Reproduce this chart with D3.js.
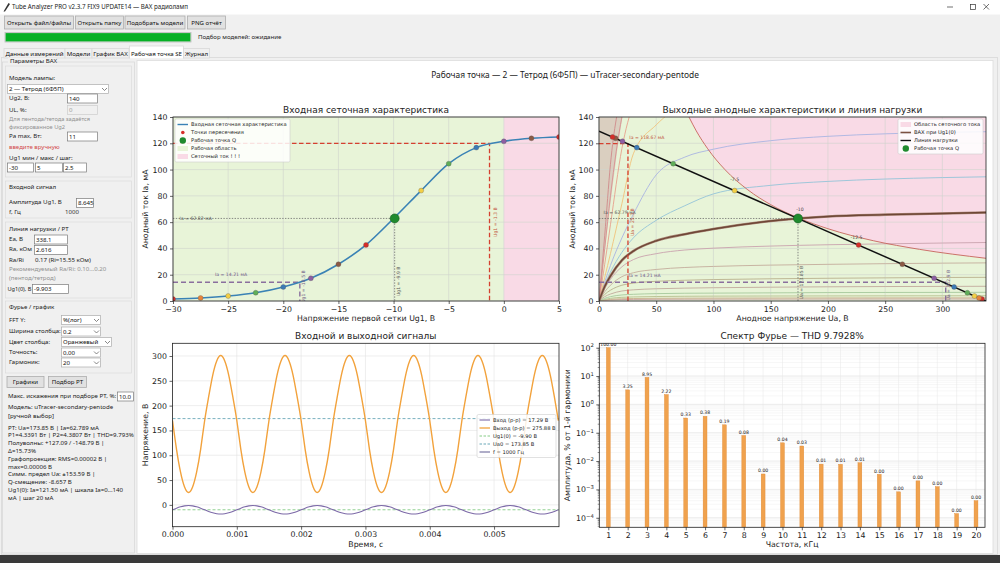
<!DOCTYPE html>
<html lang="ru">
<head>
<meta charset="utf-8"/>
<title>Tube Analyzer PRO — Рабочая точка SE</title>
<script src="https://d3js.org/d3.v7.min.js"></script>
<style>
  body { margin: 0; background: #f0f0f0; overflow: hidden; }
  svg { display: block; }
</style>
</head>
<body>
<svg id="app" width="1000" height="563"></svg>
<script>
// ---------- values ----------
// input (grid) characteristic along the load line
var ug1Grid    = [-30, -27.5, -25, -22.5, -20, -17.5, -15, -12.5, -10, -7.5, -5, -2.5, 0, 2.5, 5];
var iaTransfer = [1.5, 2.3, 3.8, 6.3, 10.7, 17.3, 28.0, 42.7, 62.8, 84.0, 104.5, 116.7, 121.5, 123.8, 124.8];
var uaCross    = [334.5, 332.0, 328.0, 321.8, 310.2, 292.8, 265.0, 226.8, 173.85, 118.5, 64.8, 33.0, 20.5, 14.5, 11.8];

// anode family Ia(Ua), one row per Ug1 of ug1Grid
var anodeUa = [0, 5, 10, 20, 30, 50, 75, 100, 150, 200, 250, 300, 338.1];
var anodeIa = [
  [0, 0.45, 0.78, 1.1, 1.2, 1.32, 1.38, 1.42, 1.46, 1.5, 1.52, 1.54, 1.55],
  [0, 0.7, 1.2, 1.7, 1.9, 2.05, 2.15, 2.2, 2.27, 2.32, 2.35, 2.38, 2.4],
  [0, 1.2, 2.0, 2.8, 3.1, 3.4, 3.6, 3.7, 3.8, 3.86, 3.92, 3.97, 4.0],
  [0, 2.0, 3.3, 4.6, 5.1, 5.6, 5.9, 6.0, 6.2, 6.4, 6.5, 6.55, 6.6],
  [0, 3.3, 5.3, 7.6, 8.5, 9.3, 9.8, 10.1, 10.5, 10.8, 11.0, 11.1, 11.2],
  [0, 5.0, 8.2, 12.0, 13.6, 15.0, 15.8, 16.3, 16.9, 17.3, 17.6, 17.9, 18.0],
  [0, 7.0, 12.0, 18.5, 21.5, 24.0, 25.5, 26.3, 27.3, 27.9, 28.4, 28.8, 29.0],
  [0, 9.5, 16.5, 26.0, 31.5, 36.0, 38.8, 40.2, 41.8, 42.8, 43.5, 44.1, 44.5],
  [0, 11.0, 19.0, 31.0, 38.0, 45.8, 50.8, 54.8, 60.9, 64.3, 65.7, 66.6, 67.3],
  [0, 12.5, 22.0, 37.0, 48.0, 61.4, 72.5, 81.5, 88.0, 91.0, 92.8, 93.9, 94.5],
  [0, 14.5, 27.0, 48.0, 66.0, 96.0, 109.5, 115.5, 122.0, 125.3, 127.2, 128.3, 128.8],
  [0, 18, 36, 74, 112, 134, 150, 158, 165, 170, 173, 175, 176],
  [0, 28, 58, 116, 150, 175, 185, 190, 195, 198, 200, 201, 202],
  [0, 40, 80, 140, 170, 195, 205, 210, 215, 218, 220, 221, 222],
  [0, 50, 104, 160, 190, 215, 225, 230, 235, 238, 240, 241, 242]
];
// Pa max = 11 W boundary
var paUa = [78.6, 85, 95, 110, 130, 150, 175, 200, 240, 280, 338.1];
var paIa = [140, 129.4, 115.8, 100, 84.6, 73.3, 62.9, 55.0, 45.8, 39.3, 32.5];
// left grid-current wedge
var tanUa = [0, 4, 8, 12, 16, 20.5, 0];
var tanIa = [0, 30, 60, 88, 115, 140, 140];
// load line Ea = 338.1 V, Ra = 2.616 kOhm
var loadUa = [0, 338.1];
var loadIa = [129.2, 0];

// signals (time in ms)
var tMs = [
  0,0.0625,0.125,0.1875,0.25,0.3125,0.375,0.4375,0.5,0.5625,0.625,0.6875,0.75,0.8125,0.875,0.9375,
  1,1.0625,1.125,1.1875,1.25,1.3125,1.375,1.4375,1.5,1.5625,1.625,1.6875,1.75,1.8125,1.875,1.9375,
  2,2.0625,2.125,2.1875,2.25,2.3125,2.375,2.4375,2.5,2.5625,2.625,2.6875,2.75,2.8125,2.875,2.9375,
  3,3.0625,3.125,3.1875,3.25,3.3125,3.375,3.4375,3.5,3.5625,3.625,3.6875,3.75,3.8125,3.875,3.9375,
  4,4.0625,4.125,4.1875,4.25,4.3125,4.375,4.4375,4.5,4.5625,4.625,4.6875,4.75,4.8125,4.875,4.9375,
  5,5.0625,5.125,5.1875,5.25,5.3125,5.375,5.4375,5.5,5.5625,5.625,5.6875,5.75,5.8125,5.875,5.9375,
  6];
var vOut = [
  170,112,66,36,25,36,66,112,170,218,261,290,301,290,261,218,
  170,112,66,36,25,36,66,112,170,218,261,290,301,290,261,218,
  170,112,66,36,25,36,66,112,170,218,261,290,301,290,261,218,
  170,112,66,36,25,36,66,112,170,218,261,290,301,290,261,218,
  170,112,66,36,25,36,66,112,170,218,261,290,301,290,261,218,
  170,112,66,36,25,36,66,112,170,218,261,290,301,290,261,218,
  170];
var vIn = [
  -9.9,-6.6,-3.8,-2.0,-1.3,-2.0,-3.8,-6.6,-9.9,-13.2,-16.0,-17.8,-18.5,-17.8,-16.0,-13.2,
  -9.9,-6.6,-3.8,-2.0,-1.3,-2.0,-3.8,-6.6,-9.9,-13.2,-16.0,-17.8,-18.5,-17.8,-16.0,-13.2,
  -9.9,-6.6,-3.8,-2.0,-1.3,-2.0,-3.8,-6.6,-9.9,-13.2,-16.0,-17.8,-18.5,-17.8,-16.0,-13.2,
  -9.9,-6.6,-3.8,-2.0,-1.3,-2.0,-3.8,-6.6,-9.9,-13.2,-16.0,-17.8,-18.5,-17.8,-16.0,-13.2,
  -9.9,-6.6,-3.8,-2.0,-1.3,-2.0,-3.8,-6.6,-9.9,-13.2,-16.0,-17.8,-18.5,-17.8,-16.0,-13.2,
  -9.9,-6.6,-3.8,-2.0,-1.3,-2.0,-3.8,-6.6,-9.9,-13.2,-16.0,-17.8,-18.5,-17.8,-16.0,-13.2,
  -9.9];

// spectrum, % of 1st harmonic
var harmN   = [1,2,3,4,5,6,7,8,9,10,11,12,13,14,15,16,17,18,19,20];
var harmPct = [100, 3.25, 8.95, 2.22, 0.33, 0.38, 0.19, 0.08, 0.0035, 0.044, 0.034, 0.0078,
               0.0077, 0.0087, 0.0034, 0.00082, 0.002, 0.00125, 0.00014, 0.0004];

// ticks
var ug1Ticks = [-30, -25, -20, -15, -10, -5, 0, 5];
var iaTicks  = [0, 20, 40, 60, 80, 100, 120, 140];
var uaTicks  = [0, 50, 100, 150, 200, 250, 300];
var tTicks   = [0, 0.001, 0.002, 0.003, 0.004, 0.005];
var vTicks   = [0, 50, 100, 150, 200, 250, 300];
var decTicks = [1e-4, 1e-3, 1e-2, 1e-1, 1, 10, 100];

// ---------- styles ----------
var UI  = '"Noto Sans", "Open Sans", sans-serif';
var MPL = '"DejaVu Sans", sans-serif';
var palette = ["#d62d28", "#e8853a", "#f3cf45", "#5fae58", "#3b7ab6", "#8d5ea3", "#8c5a45"];
var curveCols = ["#c9a0a0", "#c9b08e", "#b8bf8e", "#a6c89c", "#c2a99c", "#b9b08c", "#c4ad9c",
                 "#c9a3ae", "#7b5242", "#94c4d8", "#a9b4e2", "#f0c27a", "#e6a08c", "#d99090", "#cf8a8a"];
var GREEN = "#e8f4d8", PINK = "#f9dae6", TAN = "#dacfc0", GRID = "#cfd3cc";

var svg = d3.select("#app");
var defs = svg.append("defs");

function rect(g, x, y, w, h, fill, stroke, sw) {
  return g.append("rect").attr("x", x).attr("y", y).attr("width", w).attr("height", h)
    .attr("fill", fill).attr("stroke", stroke || "none").attr("stroke-width", sw || 1);
}
function text(g, x, y, s, size, fill, anchor, family) {
  return g.append("text").attr("x", x).attr("y", y).attr("font-size", size)
    .attr("fill", fill || "#1a1a1a").attr("text-anchor", anchor || "start")
    .attr("font-family", family || UI).text(s);
}

// ---------- window chrome ----------
rect(svg, 0, 0, 1000, 563, "#f0f0f0");
rect(svg, 0, 0, 1000, 14.5, "#ffffff");
svg.append("path").attr("d", "M3.5,11.5 L8.5,3 L10,4 L5,11.5 Z").attr("fill", "#333");
text(svg, 12, 8.8, "Tube Analyzer PRO v2.3.7 FIX9 UPDATE14 — ВАХ радиоламп", 6.2, "#222");
svg.append("line").attr("x1", 947).attr("x2", 953).attr("y1", 7).attr("y2", 7).attr("stroke", "#333").attr("stroke-width", 0.7);
rect(svg, 970.5, 4.5, 5, 5, "none", "#333", 0.7);
svg.append("path").attr("d", "M983.5,4 L989,9.5 M989,4 L983.5,9.5").attr("stroke", "#333").attr("stroke-width", 0.7);

function button(g, x, y, w, h, label) {
  rect(g, x + 0.5, y + 0.5, w, h, "#e1e1e1", "#adadad", 0.8);
  text(g, x + w / 2 + 0.5, y + h / 2 + 2.6, label, 6.1, "#111", "middle");
}
button(svg, 4, 15.5, 69, 13, "Открыть файл/файлы");
button(svg, 75, 15.5, 48, 13, "Открыть папку");
button(svg, 124.5, 15.5, 60, 13, "Подобрать модели");
button(svg, 187, 15.5, 38, 13, "PNG отчёт");

rect(svg, 5, 32.5, 186, 9.5, "#e6e6e6", "#bcbcbc", 0.8);
rect(svg, 5.6, 33.1, 184.8, 8.3, "#06b025");
text(svg, 198, 39.4, "Подбор моделей: ожидание", 6.1, "#222");

// notebook
rect(svg, 1.5, 57.5, 996, 497, "#f0f0f0", "#d9d9d9", 0.8);
var tabs = [["Данные измерений", 4, 61], ["Модели", 65, 27], ["График ВАХ", 92, 37],
            ["Рабочая точка SE", 129.5, 54], ["Журнал", 183.5, 26]];
tabs.forEach(function (t, i) {
  var sel = i === 3;
  rect(svg, t[1], sel ? 46 : 48.5, t[2], sel ? 12 : 9.5, sel ? "#ffffff" : "#f0f0f0", "#d9d9d9", 0.8);
  text(svg, t[1] + t[2] / 2, 55.6, t[0], 6.1, "#111", "middle");
});
rect(svg, 130, 57, 53, 1.5, "#ffffff");

// figure canvas
rect(svg, 137, 60.5, 856, 493, "#ffffff", "#dcdcdc", 0.8);
rect(svg, 0, 555, 1000, 8, "#3a3a3a");
text(svg, 565, 78.2, "Рабочая точка — 2 — Тетрод (6Ф5П) — uTracer-secondary-pentode", 8.4, "#222", "middle");

// ---------- left panel ----------
var L = svg.append("g");
function entry(x, y, w, val, disabled) {
  rect(L, x + 0.5, y + 0.5, w, 9, disabled ? "#f0f0f0" : "#ffffff", disabled ? "#cccccc" : "#7a7a7a", 0.7);
  text(L, x + 2, y + 7.3, val, 6.1, disabled ? "#a0a0a0" : "#111");
}
function combo(x, y, w, val) {
  rect(L, x + 0.5, y + 0.5, w, 9, "#ffffff", "#acacac", 0.7);
  text(L, x + 2, y + 7.3, val, 6.1, "#111");
  L.append("path").attr("d", "M" + (x + w - 6) + "," + (y + 4) + " l2.5,2.5 l2.5,-2.5")
    .attr("fill", "none").attr("stroke", "#555").attr("stroke-width", 0.7);
}
function lab(x, y, s, fill, size) { return text(L, x, y, s, size || 6.1, fill || "#1a1a1a"); }

rect(L, 2.5, 62, 132, 491, "none", "#d6d6d6", 0.7);
rect(L, 8, 58, 48, 6, "#f0f0f0");
lab(10, 63.4, "Параметры ВАХ");
rect(L, 5.5, 66, 126, 111, "none", "#dcdcdc", 0.7);
lab(9, 80, "Модель лампы:");
combo(7, 84, 101, "2 — Тетрод (6Ф5П)");
lab(9, 100, "Ug2, В:");           entry(67, 93.5, 30, "140");
lab(9, 111.5, "UL, %:");          entry(67, 105, 30, "0", true);
lab(9, 121, "Для пентода/тетода задаётся", "#909090", 5.7);
lab(9, 128.8, "фиксированное Ug2", "#909090", 5.7);
lab(9, 138, "Pa max, Вт:");       entry(67, 131.5, 30, "11");
lab(9, 149, "введите вручную", "#d24a4a");
lab(9, 160, "Ug1 мин / макс / шаг:");
entry(7, 162.5, 26, "-30"); entry(35, 162.5, 27, "5"); entry(63, 162.5, 23, "2.5");

rect(L, 5.5, 181, 126, 37, "none", "#dcdcdc", 0.7);
lab(9, 189, "Входной сигнал");
lab(9, 204, "Амплитуда Ug1, В"); entry(76, 198, 17, "8.645");
lab(9, 214, "f, Гц"); lab(65, 214, "1000", "#333");

rect(L, 5.5, 222, 126, 76, "none", "#dcdcdc", 0.7);
lab(9, 230.5, "Линия нагрузки / РТ");
lab(9, 240.5, "Ea, В");   entry(34, 234.5, 33, "338.1");
lab(9, 250.5, "Ra, кОм"); entry(34, 245, 33, "2.616");
lab(9, 261.5, "Ra/Ri"); lab(35, 261.5, "0.17  (Ri≈15.55 кОм)");
lab(9, 270.5, "Рекомендуемый Ra/Ri: 0.10...0.20", "#909090");
lab(9, 279.5, "(пентод/тетрод)", "#909090");
lab(7.5, 290.5, "Ug1(0), В", "#1a1a1a", 5.6); entry(32, 284, 36, "-9.903");

rect(L, 5.5, 301, 126, 72, "none", "#dcdcdc", 0.7);
lab(9, 309, "Фурье / график");
lab(9, 321.5, "FFT Y:");          combo(61, 315, 39, "%(лог)");
lab(9, 333, "Ширина столбца:");   combo(61, 326.5, 39, "0.2");
lab(9, 343.5, "Цвет столбца:");   combo(61, 337, 50, "Оранжевый");
lab(9, 354, "Точность:");         combo(61, 347.5, 39, "0,00");
lab(9, 364, "Гармоник:");         combo(61, 357.5, 39, "20");
button(L, 6.5, 376, 37, 11, "Графики");
button(L, 48, 376, 38, 11, "Подбор РТ");
lab(8, 398, "Макс. искажения при подборе РТ, %:"); entry(117, 391.5, 16, "10.0");
lab(8, 409, "Модель: uTracer-secondary-pentode");
lab(8, 418, "[ручной выбор]");
var info = ["РТ: Ua=173.85 В | Ia=62.789 мА", "P1=4.3391 Вт | P2=4.3807 Вт | THD=9.793%",
            "Полуволны: +127.09 / -148.79 В |", "Δ=15.73%", "Графопроекция: RMS=0.00002 В |",
            "max=0.00006 В", "Симм. предел Ua: ±153.59 В |", "Q-смещение: -8.657 В",
            "Ug1(0): Ia=121.50 мА | шкала Ia=0...140", "мА | шаг 20 мА"];
info.forEach(function (s, i) { lab(8, 429.5 + i * 7.8, s); });

// ---------- plotting helpers ----------
function panel(p, id) {
  var g = svg.append("g").attr("font-family", MPL);
  defs.append("clipPath").attr("id", id).append("rect")
    .attr("x", p.l).attr("y", p.t).attr("width", p.w).attr("height", p.h);
  return {
    bg: g.append("g").attr("clip-path", "url(#" + id + ")"),
    grid: g.append("g"),
    data: g.append("g").attr("clip-path", "url(#" + id + ")"),
    top: g.append("g")
  };
}
function gridX(layer, sc, vals, p, col, w) {
  layer.selectAll(null).data(vals).join("line")
    .attr("x1", function (d) { return sc(d); }).attr("x2", function (d) { return sc(d); })
    .attr("y1", p.t).attr("y2", p.t + p.h).attr("stroke", col).attr("stroke-width", w);
}
function gridY(layer, sc, vals, p, col, w) {
  layer.selectAll(null).data(vals).join("line")
    .attr("y1", function (d) { return sc(d); }).attr("y2", function (d) { return sc(d); })
    .attr("x1", p.l).attr("x2", p.l + p.w).attr("stroke", col).attr("stroke-width", w);
}
function styleAxis(a) {
  a.attr("font-family", MPL).attr("font-size", 7.8);
  a.select(".domain").remove();
  a.selectAll("line").attr("stroke", "#222").attr("stroke-width", 0.7);
  a.selectAll("text").attr("fill", "#222");
}
function frameAxes(P, p, xAxis, yAxis) {
  P.top.append("rect").attr("x", p.l).attr("y", p.t).attr("width", p.w).attr("height", p.h)
    .attr("fill", "none").attr("stroke", "#222").attr("stroke-width", 0.8);
  var ax = P.top.append("g").attr("transform", "translate(0," + (p.t + p.h) + ")").call(xAxis);
  var ay = P.top.append("g").attr("transform", "translate(" + p.l + ",0)").call(yAxis);
  styleAxis(ax); styleAxis(ay);
  return [ax, ay];
}
function titles(P, p, title, xl, yl, ylx) {
  text(P.top, p.l + p.w / 2, p.t - 4.2, title, 9, "#222", "middle", MPL);
  text(P.top, p.l + p.w / 2, p.t + p.h + 19.8, xl, 7.8, "#222", "middle", MPL);
  text(P.top, ylx, p.t + p.h / 2, yl, 7.8, "#222", "middle", MPL)
    .attr("transform", "rotate(-90," + ylx + "," + (p.t + p.h / 2) + ")");
}
function guide(layer, pts, col, dash, w) {
  layer.append("path").attr("d", d3.line()(pts)).attr("fill", "none")
    .attr("stroke", col).attr("stroke-dasharray", dash).attr("stroke-width", w);
}
function vlabel(layer, x, y, s, col) {
  text(layer, x, y, s, 4.6, col, "middle", MPL).attr("transform", "rotate(-90," + x + "," + y + ")");
}
function minus(d) { return String(d).replace("-", "\u2212"); }
function legend(layer, x, y, w, rows, items) {
  layer.append("rect").attr("x", x).attr("y", y).attr("width", w).attr("height", rows * 8 + 3)
    .attr("rx", 1.5).attr("fill", "#ffffff").attr("fill-opacity", 0.85)
    .attr("stroke", "#cccccc").attr("stroke-width", 0.6);
  items.forEach(function (it, i) {
    var cy = y + 5.5 + i * 8;
    if (it.type === "line") {
      layer.append("line").attr("x1", x + 2.5).attr("x2", x + 13).attr("y1", cy).attr("y2", cy)
        .attr("stroke", it.col).attr("stroke-width", it.w || 1.2).attr("stroke-dasharray", it.dash || null);
    } else if (it.type === "dot") {
      layer.append("circle").attr("cx", x + 7.8).attr("cy", cy).attr("r", it.r).attr("fill", it.col);
    } else {
      layer.append("rect").attr("x", x + 2.5).attr("y", cy - 2.5).attr("width", 10.5).attr("height", 5)
        .attr("fill", it.col);
    }
    text(layer, x + 16, cy + 1.8, it.label, 5.2, "#222", "start", MPL);
  });
}

// ---------- plot 1: input characteristic ----------
var p1 = {l: 173, t: 117, w: 386, h: 184};
var x1 = d3.scaleLinear().domain([-30, 5]).range([p1.l, p1.l + p1.w]);
var y1 = d3.scaleLinear().domain([0, 140]).range([p1.t + p1.h, p1.t]);
var P1 = panel(p1, "c1");
P1.bg.append("rect").attr("x", x1(-30)).attr("y", p1.t).attr("width", x1(0) - x1(-30)).attr("height", p1.h).attr("fill", GREEN);
P1.bg.append("rect").attr("x", x1(0)).attr("y", p1.t).attr("width", x1(5) - x1(0)).attr("height", p1.h).attr("fill", PINK);
gridX(P1.grid, x1, ug1Ticks, p1, GRID, 0.6);
gridY(P1.grid, y1, iaTicks, p1, GRID, 0.6);

guide(P1.data, [[x1(-30), y1(120)], [x1(-1.3), y1(120)], [x1(-1.3), y1(0)]], "#d5402f", "4.5,2.5", 1.3);
guide(P1.data, [[x1(-30), y1(62.82)], [x1(-9.9), y1(62.82)], [x1(-9.9), y1(0)]], "#6c6c6c", "1.4,1.4", 0.8);
guide(P1.data, [[x1(-30), y1(14.21)], [x1(-18.5), y1(14.21)], [x1(-18.5), y1(0)]], "#8a6f9e", "5,3", 1.4);

P1.data.append("path")
  .attr("d", d3.line().x(function (d, i) { return x1(ug1Grid[i]); }).y(function (d) { return y1(d); })
    .curve(d3.curveMonotoneX)(iaTransfer))
  .attr("fill", "none").attr("stroke", "#3a82b5").attr("stroke-width", 1.6);
P1.data.selectAll(null).data(iaTransfer).join("circle")
  .attr("cx", function (d, i) { return x1(ug1Grid[i]); }).attr("cy", function (d) { return y1(d); })
  .attr("r", 2.5).attr("fill", function (d, i) { return palette[i % 7]; })
  .attr("stroke", "#555").attr("stroke-width", 0.3);
P1.data.append("circle").attr("cx", x1(-9.9)).attr("cy", y1(62.82)).attr("r", 4.5)
  .attr("fill", "#1f8a2e").attr("stroke", "#0f5a1a").attr("stroke-width", 0.6);

text(P1.data, x1(-29.4), y1(62.82) + 1.6, "Ia = 62.82 мА", 4.6, "#555", "start", MPL);
text(P1.data, x1(-26.2), y1(19.2), "Ia = 14.21 мА", 4.6, "#6f5a86", "start", MPL);
vlabel(P1.data, x1(-0.6), y1(60), "Ug1 = -1.3 В", "#c2553f");
vlabel(P1.data, x1(-9.4), y1(15), "Ug1 = -9.9 В", "#555");
vlabel(P1.data, x1(-18), y1(11), "Ug1 = -18.5 В", "#6f5a86");

frameAxes(P1, p1,
  d3.axisBottom(x1).tickValues(ug1Ticks).tickSize(3).tickPadding(2).tickFormat(minus),
  d3.axisLeft(y1).tickValues(iaTicks).tickSize(3).tickPadding(2.5));
titles(P1, p1, "Входная сеточная характеристика", "Напряжение первой сетки Ug1, В", "Анодный ток Ia, мА", 148);
legend(P1.top, 175, 119, 115, 5, [
  {type: "line", col: "#3a82b5", w: 1.4, label: "Входная сеточная характеристика"},
  {type: "dot", col: "#d62d28", r: 1.8, label: "Точки пересечения"},
  {type: "dot", col: "#1f8a2e", r: 3.2, label: "Рабочая точка Q"},
  {type: "patch", col: GREEN, label: "Рабочая область"},
  {type: "patch", col: PINK, label: "Сеточный ток ! ! !"}
]);

// ---------- plot 2: anode family and load line ----------
var p2 = {l: 599, t: 117, w: 387, h: 184};
var x2 = d3.scaleLinear().domain([0, 338.1]).range([p2.l, p2.l + p2.w]);
var y2 = d3.scaleLinear().domain([0, 140]).range([p2.t + p2.h, p2.t]);
var P2 = panel(p2, "c2");
P2.bg.append("rect").attr("x", p2.l).attr("y", p2.t).attr("width", p2.w).attr("height", p2.h).attr("fill", GREEN);
var pinkPts = paUa.map(function (u, i) { return [x2(u), y2(paIa[i])]; });
pinkPts.push([x2(338.1), y2(140)]);
P2.bg.append("path").attr("d", d3.line()(pinkPts) + "Z").attr("fill", PINK);
P2.bg.append("path").attr("d", d3.line()(tanUa.map(function (u, i) { return [x2(u), y2(tanIa[i])]; })) + "Z").attr("fill", TAN);
gridX(P2.grid, x2, uaTicks, p2, GRID, 0.6);
gridY(P2.grid, y2, iaTicks, p2, GRID, 0.6);

var famLine = d3.line().x(function (d, i) { return x2(anodeUa[i]); }).y(function (d) { return y2(d); }).curve(d3.curveMonotoneX);
anodeIa.forEach(function (row, k) {
  if (k === 8) return;
  P2.data.append("path").attr("d", famLine(row)).attr("fill", "none")
    .attr("stroke", curveCols[k]).attr("stroke-width", 0.9);
});
P2.data.append("path").attr("d", famLine(anodeIa[8])).attr("fill", "none").attr("stroke", "#a98676").attr("stroke-width", 2.6);
P2.data.append("path").attr("d", famLine(anodeIa[8])).attr("fill", "none").attr("stroke", "#6e4636").attr("stroke-width", 1.4);
P2.data.append("path")
  .attr("d", d3.line().x(function (d) { return x2(d); }).y(function (d, i) { return y2(paIa[i]); }).curve(d3.curveMonotoneX)(paUa))
  .attr("fill", "none").attr("stroke", "#c8625e").attr("stroke-width", 0.9);

guide(P2.data, [[x2(0), y2(119.8)], [x2(25.3), y2(119.8)], [x2(25.3), y2(0)]], "#d5402f", "4.5,2.5", 1.3);
guide(P2.data, [[x2(0), y2(62.79)], [x2(173.85), y2(62.79)], [x2(173.85), y2(0)]], "#6c6c6c", "1.4,1.4", 0.8);
guide(P2.data, [[x2(0), y2(14.21)], [x2(302.9), y2(14.21)], [x2(302.9), y2(0)]], "#8a6f9e", "5,3", 1.4);

P2.data.append("path").attr("d", d3.line()(loadUa.map(function (u, i) { return [x2(u), y2(loadIa[i])]; })))
  .attr("stroke", "#111").attr("stroke-width", 1.5);
P2.data.selectAll(null).data(iaTransfer).join("circle")
  .attr("cx", function (d, i) { return x2(uaCross[i]); }).attr("cy", function (d) { return y2(d); })
  .attr("r", 2.5).attr("fill", function (d, i) { return palette[i % 7]; })
  .attr("stroke", "#555").attr("stroke-width", 0.3);
P2.data.append("circle").attr("cx", x2(173.85)).attr("cy", y2(62.79)).attr("r", 4.5)
  .attr("fill", "#1f8a2e").attr("stroke", "#0f5a1a").attr("stroke-width", 0.6);

text(P2.data, x2(26.5), y2(123.5), "Ia = 118.67 мА", 4.6, "#c2553f", "start", MPL);
text(P2.data, x2(4), y2(66.5), "Ia = 62.79 мА", 4.6, "#555", "start", MPL);
text(P2.data, x2(25.8), y2(18.3), "Ia = 14.21 мА", 4.6, "#6f5a86", "start", MPL);
vlabel(P2.data, x2(31), y2(60), "Ua = 25.3 В", "#c2553f");
vlabel(P2.data, x2(178.5), y2(14), "Ua = 173.85 В", "#555");
vlabel(P2.data, x2(307), y2(12), "Ua = 302.9 В", "#6f5a86");
text(P2.data, x2(118.5), y2(91.5), "-7.5", 4.6, "#444", "middle", MPL);
text(P2.data, x2(175.5), y2(68.5), "-10", 4.6, "#444", "middle", MPL);
text(P2.data, x2(225), y2(47), "-12.5", 4.6, "#444", "middle", MPL);

frameAxes(P2, p2,
  d3.axisBottom(x2).tickValues(uaTicks).tickSize(3).tickPadding(2),
  d3.axisLeft(y2).tickValues(iaTicks).tickSize(3).tickPadding(2.5));
titles(P2, p2, "Выходные анодные характеристики и линия нагрузки", "Анодное напряжение Ua, В", "Анодный ток Ia, мА", 575);
legend(P2.top, 898, 119, 85, 4, [
  {type: "patch", col: PINK, label: "Область сеточного тока"},
  {type: "line", col: "#7b5242", w: 1.6, label: "ВАХ при Ug1(0)"},
  {type: "line", col: "#111", w: 1.4, label: "Линия нагрузки"},
  {type: "dot", col: "#1f8a2e", r: 3.2, label: "Рабочая точка Q"}
]);

// ---------- plot 3: signals ----------
var p3 = {l: 172.5, t: 343.3, w: 386.5, h: 183.4};
var x3 = d3.scaleLinear().domain([0, 0.00601]).range([p3.l, p3.l + p3.w]);
var y3 = d3.scaleLinear().domain([-44, 325.6]).range([p3.t + p3.h, p3.t]);
var P3 = panel(p3, "c3");
gridX(P3.grid, x3, tTicks, p3, "#e3e3e3", 0.6);
gridY(P3.grid, y3, vTicks, p3, "#e3e3e3", 0.6);
P3.data.append("line").attr("x1", p3.l).attr("x2", p3.l + p3.w).attr("y1", y3(173.85)).attr("y2", y3(173.85))
  .attr("stroke", "#6aa8b8").attr("stroke-width", 0.9).attr("stroke-dasharray", "3,2");
P3.data.append("line").attr("x1", p3.l).attr("x2", p3.l + p3.w).attr("y1", y3(-9.9)).attr("y2", y3(-9.9))
  .attr("stroke", "#86cc86").attr("stroke-width", 0.9).attr("stroke-dasharray", "3,2");
var sigLine = function (vals) {
  return d3.line().x(function (d, i) { return x3(tMs[i] / 1000); }).y(function (d) { return y3(d); })
    .curve(d3.curveNatural)(vals);
};
P3.data.append("path").attr("d", sigLine(vOut)).attr("fill", "none").attr("stroke", "#f2a23c").attr("stroke-width", 1.4);
P3.data.append("path").attr("d", sigLine(vIn)).attr("fill", "none").attr("stroke", "#7d6aa8").attr("stroke-width", 1.1);
frameAxes(P3, p3,
  d3.axisBottom(x3).tickValues(tTicks).tickSize(3).tickPadding(2).tickFormat(d3.format(".3f")),
  d3.axisLeft(y3).tickValues(vTicks).tickSize(3).tickPadding(2.5));
titles(P3, p3, "Входной и выходной сигналы", "Время, с", "Напряжение, В", 148);
legend(P3.top, 477, 414.5, 79, 5, [
  {type: "line", col: "#7d6aa8", w: 1.1, label: "Вход (р-р) = 17.29 В"},
  {type: "line", col: "#f2a23c", w: 1.3, label: "Выход (р-р) = 275.88 В"},
  {type: "line", col: "#86cc86", w: 1, dash: "2.5,1.5", label: "Ug1(0) = -9.90 В"},
  {type: "line", col: "#6aa8b8", w: 1, dash: "2.5,1.5", label: "Ua0 = 173.85 В"},
  {type: "line", col: "#6e6a9c", w: 1.1, label: "f = 1000 Гц"}
]);

// ---------- plot 4: spectrum ----------
var p4 = {l: 599.3, t: 343.3, w: 385.7, h: 184};
var x4 = d3.scaleLinear().domain([0.535, 20.465]).range([p4.l, p4.l + p4.w]);
var y4 = d3.scaleLog().domain([4.6e-5, 143]).range([p4.t + p4.h, p4.t]);
var P4 = panel(p4, "c4");
var minorTicks = y4.ticks().filter(function (d) { return decTicks.indexOf(d) < 0; });
gridY(P4.grid, y4, minorTicks, p4, "#efefef", 0.5);
gridY(P4.grid, y4, decTicks, p4, "#dedede", 0.6);
gridX(P4.grid, x4, harmN, p4, "#e6e6e6", 0.5);
P4.data.selectAll(null).data(harmPct).join("rect")
  .attr("x", function (d, i) { return x4(harmN[i] - 0.1); })
  .attr("width", x4(0.2) - x4(0))
  .attr("y", function (d) { return y4(d); })
  .attr("height", function (d) { return p4.t + p4.h - y4(d); })
  .attr("fill", "#f0a24e").attr("stroke", "#e08a34").attr("stroke-width", 0.4);
P4.data.selectAll(null).data(harmPct).join("text")
  .attr("x", function (d, i) { return x4(harmN[i]); })
  .attr("y", function (d) { return y4(d) - 1.8; })
  .attr("text-anchor", "middle").attr("font-size", 4.6).attr("fill", "#222").attr("font-family", MPL)
  .text(function (d) { return d.toFixed(2); });
var ax4 = frameAxes(P4, p4,
  d3.axisBottom(x4).tickValues(harmN).tickSize(3).tickPadding(2),
  d3.axisLeft(y4).tickValues(decTicks).tickSize(3).tickPadding(2.5).tickFormat(function () { return ""; }));
ax4[1].selectAll(".tick text").each(function (d) {
  var t = d3.select(this);
  t.append("tspan").text("10");
  t.append("tspan").attr("dy", -3.2).attr("font-size", 5.3).text(minus(Math.round(Math.log10(d))));
});
P4.top.selectAll(null).data(minorTicks).join("line")
  .attr("x1", p4.l - 1.6).attr("x2", p4.l).attr("y1", function (d) { return y4(d); }).attr("y2", function (d) { return y4(d); })
  .attr("stroke", "#222").attr("stroke-width", 0.5);
titles(P4, p4, "Спектр Фурье — THD 9.7928%", "Частота, кГц", "Амплитуда, % от 1-й гармоники", 570);
</script>
</body>
</html>
